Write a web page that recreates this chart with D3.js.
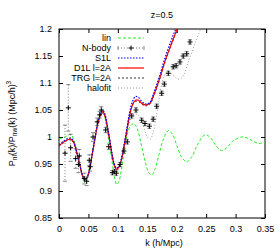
<!DOCTYPE html>
<html>
<head>
<meta charset="utf-8">
<script src="https://cdn.jsdelivr.net/npm/d3@7"></script>
<style>
  body { margin: 0; background: #fff; }
  svg { font-family: "Liberation Sans", Arial, sans-serif; font-size: 9px; }
  .tick text { font-family: "Liberation Sans", Arial, sans-serif; font-size: 9px; fill: #000; }
  .tick line { stroke: #000; }
</style>
</head>
<body>
<svg class="chart"></svg>
<script>
// tick values
const xTicks = [0, 0.05, 0.1, 0.15, 0.2, 0.25, 0.3, 0.35];
const yTicks = [0.85, 0.9, 0.95, 1, 1.05, 1.1, 1.15, 1.2];

// linear theory
const linK = [0, 0.005, 0.01, 0.015, 0.02, 0.025, 0.03, 0.035, 0.04, 0.043, 0.047, 0.05, 0.055, 0.06, 0.065, 0.07, 0.0725, 0.076, 0.08, 0.085, 0.09, 0.095, 0.098, 0.102, 0.106, 0.11, 0.115, 0.12, 0.127, 0.133, 0.14, 0.147, 0.153, 0.158, 0.163, 0.17, 0.178, 0.186, 0.193, 0.2, 0.208, 0.217, 0.225, 0.235, 0.245, 0.25, 0.258, 0.266, 0.276, 0.285, 0.295, 0.31, 0.32, 0.33, 0.34, 0.35];
const linV = [0.997, 0.998, 1.0, 1.003, 1.005, 0.995, 0.975, 0.95, 0.926, 0.917, 0.921, 0.933, 0.963, 0.994, 1.024, 1.045, 1.05, 1.045, 1.025, 0.99, 0.955, 0.922, 0.912, 0.918, 0.94, 0.968, 1.0, 1.018, 1.025, 1.015, 0.985, 0.952, 0.933, 0.93, 0.94, 0.968, 0.998, 1.012, 1.005, 0.985, 0.963, 0.954, 0.962, 0.985, 1.002, 1.004, 0.998, 0.985, 0.975, 0.98, 0.992, 1.0, 0.998, 0.992, 0.988, 0.99];

// perturbation theory curves
const ptK = [0, 0.005, 0.01, 0.015, 0.02, 0.025, 0.03, 0.035, 0.04, 0.044, 0.048, 0.052, 0.056, 0.06, 0.065, 0.07, 0.074, 0.078, 0.082, 0.086, 0.09, 0.094, 0.098, 0.102, 0.106, 0.11, 0.115, 0.12, 0.125, 0.13, 0.135, 0.14, 0.145, 0.15, 0.155, 0.16, 0.17, 0.18, 0.19, 0.2, 0.21];
const s1lV = [0.986, 0.99, 0.994, 0.997, 0.998, 0.991, 0.973, 0.951, 0.929, 0.921, 0.926, 0.941, 0.966, 0.991, 1.022, 1.042, 1.05, 1.043, 1.022, 0.997, 0.97, 0.95, 0.942, 0.946, 0.96, 0.983, 1.014, 1.046, 1.066, 1.075, 1.073, 1.067, 1.062, 1.061, 1.065, 1.078, 1.11, 1.146, 1.177, 1.205, 1.235];
const d1lV = [0.984, 0.988, 0.992, 0.995, 0.996, 0.99, 0.972, 0.95, 0.928, 0.92, 0.925, 0.94, 0.965, 0.99, 1.02, 1.04, 1.047, 1.04, 1.02, 0.995, 0.968, 0.948, 0.94, 0.945, 0.958, 0.98, 1.01, 1.04, 1.06, 1.068, 1.068, 1.063, 1.06, 1.06, 1.063, 1.075, 1.105, 1.14, 1.17, 1.198, 1.228];
const trgV = [0.983, 0.987, 0.991, 0.994, 0.995, 0.989, 0.971, 0.949, 0.928, 0.92, 0.925, 0.94, 0.964, 0.989, 1.019, 1.039, 1.046, 1.039, 1.019, 0.994, 0.967, 0.947, 0.939, 0.944, 0.957, 0.979, 1.009, 1.039, 1.059, 1.066, 1.066, 1.061, 1.058, 1.058, 1.061, 1.073, 1.103, 1.138, 1.168, 1.196, 1.226];

// halofit
const hfK = [0, 0.01, 0.02, 0.025, 0.03, 0.035, 0.04, 0.044, 0.048, 0.052, 0.056, 0.06, 0.065, 0.07, 0.074, 0.078, 0.082, 0.086, 0.09, 0.094, 0.098, 0.102, 0.106, 0.11, 0.115, 0.12, 0.125, 0.13, 0.135, 0.14, 0.145, 0.15, 0.155, 0.16, 0.165, 0.17, 0.175, 0.18, 0.186, 0.192, 0.198, 0.205, 0.212, 0.22, 0.23, 0.24, 0.245];
const hfV = [0.99, 0.993, 0.996, 0.99, 0.972, 0.95, 0.93, 0.921, 0.925, 0.94, 0.964, 0.99, 1.018, 1.037, 1.043, 1.036, 1.015, 0.99, 0.962, 0.942, 0.935, 0.94, 0.955, 0.978, 1.005, 1.028, 1.04, 1.043, 1.04, 1.033, 1.015, 1.0, 0.996, 1.008, 1.035, 1.07, 1.1, 1.115, 1.121, 1.117, 1.11, 1.107, 1.115, 1.14, 1.17, 1.198, 1.21];

// N-body measurements
const nbK = [0.0102, 0.0158, 0.0198, 0.0283, 0.033, 0.0345, 0.043, 0.047, 0.0515, 0.053, 0.0578, 0.065, 0.069, 0.0719, 0.0793, 0.0845, 0.0906, 0.0945, 0.0974, 0.1037, 0.1104, 0.116, 0.1235, 0.1308, 0.1405, 0.146, 0.1535, 0.16, 0.166, 0.1745, 0.179, 0.1857, 0.194, 0.199, 0.2056, 0.211, 0.217, 0.2226];
const nbV = [0.970, 1.054, 0.980, 0.960, 0.949, 0.965, 0.923, 0.918, 0.957, 0.945, 1.000, 1.028, 1.041, 1.050, 1.013, 0.982, 0.934, 0.936, 0.933, 0.949, 0.974, 0.991, 1.039, 1.050, 1.031, 1.025, 1.020, 1.033, 1.057, 1.081, 1.098, 1.118, 1.130, 1.132, 1.139, 1.150, 1.154, 1.176];
const nbErr = [0.052, 0.043, 0.025, 0.018, 0.015, 0.012, 0.01, 0.008, 0.01, 0.008, 0.008, 0.007, 0.006, 0.006, 0.005, 0.005, 0.004, 0.004, 0.004, 0.004, 0.004, 0.004, 0.004, 0.004, 0.004, 0.004, 0.004, 0.004, 0.004, 0.004, 0.004, 0.004, 0.004, 0.004, 0.004, 0.004, 0.004, 0.004];

const legendLabels = ['lin', 'N-body', 'S1L', 'D1L l=2A', 'TRG l=2A', 'halofit'];

//Layout
let width = 280, height = 250;
let margin = { top: 29, right: 15, bottom: 32, left: 59 };
let plotW = width - margin.left - margin.right;
let plotH = height - margin.top - margin.bottom;

let svg = d3.select('svg.chart')
  .attr('width', width)
  .attr('height', height);

let x = d3.scaleLinear().domain([0, 0.35]).range([0, plotW]);
let y = d3.scaleLinear().domain([0.85, 1.2]).range([plotH, 0]);

let g = svg.append('g')
  .attr('transform', 'translate(' + margin.left + ',' + margin.top + ')');

svg.append('defs').append('clipPath').attr('id', 'clip')
  .append('rect').attr('width', plotW).attr('height', plotH);

//Axes, ticks inward, mirrored
let fmt = d => d3.format('')(+d.toFixed(2));
g.append('g').attr('transform', 'translate(0,' + plotH + ')')
  .call(d3.axisBottom(x).tickValues(xTicks).tickFormat(fmt).tickSizeInner(-4).tickSizeOuter(0).tickPadding(8))
  .call(a => a.select('.domain').remove());
g.append('g')
  .call(d3.axisTop(x).tickValues(xTicks).tickFormat('').tickSizeInner(-4).tickSizeOuter(0))
  .call(a => a.select('.domain').remove());
g.append('g')
  .call(d3.axisLeft(y).tickValues(yTicks).tickFormat(fmt).tickSizeInner(-4).tickSizeOuter(0).tickPadding(7))
  .call(a => a.select('.domain').remove());
g.append('g').attr('transform', 'translate(' + plotW + ',0)')
  .call(d3.axisRight(y).tickValues(yTicks).tickFormat('').tickSizeInner(-4).tickSizeOuter(0))
  .call(a => a.select('.domain').remove());

//Frame
g.append('rect').attr('width', plotW).attr('height', plotH)
  .attr('fill', 'none').attr('stroke', '#000').attr('stroke-width', 1);

//Curves
let line = d3.line()
  .x(d => x(d[0]))
  .y(d => y(d[1]))
  .curve(d3.curveCatmullRom);

let series = [
  { k: hfK, v: hfV, color: '#999999', dash: '1,2', w: 1 },
  { k: linK, v: linV, color: '#22ee22', dash: '3,2', w: 1 },
  { k: ptK, v: trgV, color: '#000000', dash: '2,2', w: 0.8 },
  { k: ptK, v: d1lV, color: '#ff0000', dash: null, w: 1.2 },
  { k: ptK, v: s1lV, color: '#0000ff', dash: '1.5,1.5', w: 1.2 },
];

let curves = g.append('g').attr('clip-path', 'url(#clip)');
series.forEach(s => {
  curves.append('path')
    .datum(s.k.map((k, i) => [k, s.v[i]]))
    .attr('d', line)
    .attr('fill', 'none')
    .attr('stroke', s.color)
    .attr('stroke-width', s.w)
    .attr('stroke-dasharray', s.dash);
});

//N-body points with error bars
let nb = nbK.map((k, i) => ({ k: k, v: nbV[i], e: nbErr[i] }));
let pts = curves.selectAll('.nb').data(nb).enter().append('g')
  .attr('class', 'nb')
  .attr('transform', d => 'translate(' + x(d.k) + ',' + y(d.v) + ')');
pts.append('line')
  .attr('y1', d => Math.min(-2, y(d.v + d.e) - y(d.v)))
  .attr('y2', d => Math.max(2, y(d.v - d.e) - y(d.v)))
  .attr('stroke', '#444').attr('stroke-width', 0.7).attr('stroke-dasharray', '1,2');
pts.each(function (d) {
  let top = Math.min(-2, y(d.v + d.e) - y(d.v));
  let bot = Math.max(2, y(d.v - d.e) - y(d.v));
  let sel = d3.select(this);
  [top, bot].forEach(yy => sel.append('line')
    .attr('x1', -2).attr('x2', 2).attr('y1', yy).attr('y2', yy)
    .attr('stroke', '#555').attr('stroke-width', 0.7));
});
pts.append('path')
  .attr('d', 'M-2.5,0H2.5M0,-2.5V2.5')
  .attr('stroke', '#000').attr('stroke-width', 1);

//Legend
let legend = svg.append('g');
let legY = [38, 48, 58, 68, 78, 88];
let legStyle = [series[1], null, series[4], series[3], series[2], series[0]];
legendLabels.forEach((lab, i) => {
  legend.append('text')
    .attr('x', 111).attr('y', legY[i] + 3)
    .attr('text-anchor', 'end')
    .text(lab);
  if (legStyle[i]) {
    let s = legStyle[i];
    legend.append('line')
      .attr('x1', 118).attr('x2', 144).attr('y1', legY[i]).attr('y2', legY[i])
      .attr('stroke', s.color).attr('stroke-width', s.w).attr('stroke-dasharray', s.dash);
  } else {
    legend.append('line')
      .attr('x1', 118).attr('x2', 144).attr('y1', legY[i]).attr('y2', legY[i])
      .attr('stroke', '#444').attr('stroke-width', 0.7).attr('stroke-dasharray', '1,2');
    [118, 144].forEach(xx => legend.append('line')
      .attr('x1', xx).attr('x2', xx).attr('y1', legY[i] - 2).attr('y2', legY[i] + 2)
      .attr('stroke', '#555').attr('stroke-width', 0.7));
    legend.append('path')
      .attr('d', 'M' + 128.5 + ',' + legY[i] + 'h5M131,' + (legY[i] - 2.5) + 'v5')
      .attr('stroke', '#000').attr('stroke-width', 1);
  }
});

//Title
svg.append('text')
  .attr('x', margin.left + plotW / 2).attr('y', 18)
  .attr('text-anchor', 'middle')
  .text('z=0.5');

//X label
svg.append('text')
  .attr('x', margin.left + plotW / 2 + 2).attr('y', 246)
  .attr('text-anchor', 'middle')
  .text('k (h/Mpc)');

//Y label
let yl = svg.append('text')
  .attr('transform', 'translate(15,' + (margin.top + plotH / 2) + ') rotate(-90)')
  .attr('text-anchor', 'middle');
yl.append('tspan').text('P');
yl.append('tspan').attr('font-size', '6.5px').attr('dy', 2).text('nl');
yl.append('tspan').attr('dy', -2).text('(k)/P');
yl.append('tspan').attr('font-size', '6.5px').attr('dy', 2).text('nw');
yl.append('tspan').attr('dy', -2).text('(k) (Mpc/h)');
yl.append('tspan').attr('font-size', '6.5px').attr('dy', -4).text('3');
</script>
</body>
</html>
